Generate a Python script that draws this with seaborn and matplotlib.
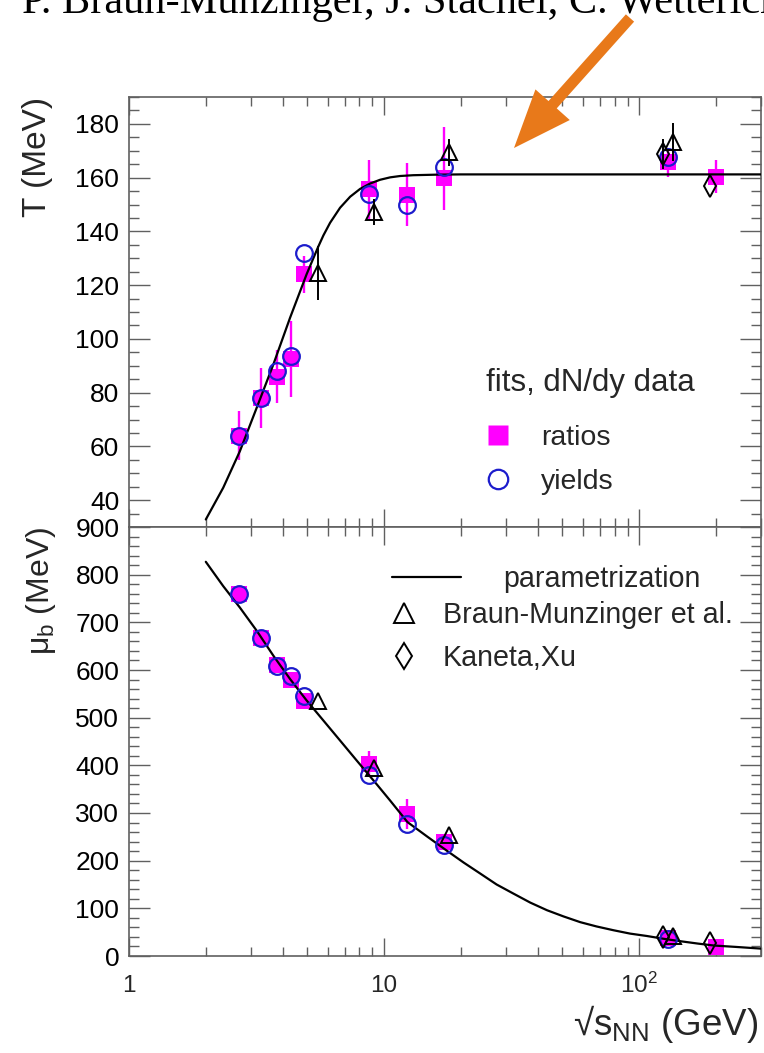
import numpy as np
import pandas as pd
import matplotlib
matplotlib.use("Agg")
import matplotlib.pyplot as plt
import seaborn as sns
from matplotlib.ticker import MultipleLocator, LogLocator, NullFormatter, FixedLocator
from matplotlib.lines import Line2D
from matplotlib.patches import FancyArrow
import matplotlib.transforms as mtransforms

# ---------------- data ----------------
# fits to dN/dy data: ratios (magenta squares) and yields (blue open circles)
E_fit = [2.7, 3.3, 3.8, 4.3, 4.85, 8.75, 12.3, 17.2, 130, 200]
T_ratios = [64, 78, 86, 92.5, 124, 155.6, 153.6, 160, 165.7, 160.4]
T_ratios_lo = [9, 11, 10, 14, 7, 11, 11.5, 12, 5.5, 6]
T_ratios_hi = [9, 11, 10, 14, 7, 11, 12, 18.7, 5.5, 6]
mu_ratios = [759, 667, 611, 579, 536, 403, 298, 239, 37, 19]
mu_ratios_err = [18, 10, 10, 10, 10, 28, 32, 12, 8, 8]

E_yields = [2.7, 3.3, 3.8, 4.3, 4.85, 8.75, 12.3, 17.2, 130]
T_yields = [64, 78, 88, 93.6, 131.8, 153.9, 149.8, 163.8, 167.8]
mu_yields = [759, 667, 609, 587, 545, 380, 276, 232, 36]

# Braun-Munzinger et al. (open triangles)
E_bm = [5.5, 9.1, 17.9, 136]
T_bm = [124.5, 147.2, 169.4, 173.2]
T_bm_err = [10, 5, 5, 7]
mu_bm = [536, 395, 253, 43]

# Kaneta, Xu (open diamonds)
E_kx = [124, 190]
T_kx = [168.8, 157]
T_kx_err = [5.5, 0]
mu_kx = [40, 27]

# parametrization curves
E_curveT = [2.00, 2.34, 2.72, 3.17, 3.68, 4.28, 4.97, 5.50, 5.78, 6.14, 6.72,
            7.36, 8.05, 8.81, 9.64, 10.56, 11.55, 13.0, 16.0, 20.0, 300.0]
T_curve = [32.8, 44.6, 58.2, 74.5, 90.5, 107.9, 124.1, 134.0, 138.5, 143.2, 148.8,
           152.9, 155.8, 157.8, 159.2, 160.1, 160.6, 160.9, 161.1, 161.2, 161.2]
E_curveMu = [2.00, 2.34, 2.72, 3.17, 3.68, 4.28, 4.97, 5.78, 6.72, 7.81, 9.36,
             10.56, 12.34, 14.8, 17.6, 20.5, 23.8, 27.6, 32.1, 37.4, 43.5, 50.5,
             58.7, 68.0, 79.3, 92.0, 107, 125, 145, 170, 196, 240, 300]
mu_curve = [827, 776, 731, 682, 630, 581, 536, 494, 452, 410, 360,
            326, 281, 250, 221, 196, 173, 150, 131, 112, 96, 83,
            71, 62, 54, 47, 42, 36, 31, 26, 22, 19, 15.5]

xtick_vals = [1, 10, 100]
xtick_labels = ["1", "10", r"$10^{2}$"]

# ---------------- style ----------------
sns.set_theme(style="ticks")
plt.rcParams["font.family"] = ["Liberation Sans", "DejaVu Sans"]
plt.rcParams["mathtext.fontset"] = "custom"
plt.rcParams["mathtext.rm"] = "Liberation Sans"
plt.rcParams["mathtext.it"] = "Liberation Sans:italic"
plt.rcParams["mathtext.bf"] = "Liberation Sans:bold"
plt.rcParams["mathtext.default"] = "regular"

MAG = "#ff00ff"
BLUE = "#1c1ccc"
GRAY = "#606060"

fig = plt.figure(figsize=(7.64, 10.53), dpi=100)
L, W = 129 / 764, 632 / 764
axT = fig.add_axes([L, 1 - 527 / 1053, W, 430 / 1053])
axM = fig.add_axes([L, 1 - 956 / 1053, W, 429 / 1053])

dfT = pd.DataFrame({"E": E_curveT, "T": T_curve})
dfM = pd.DataFrame({"E": E_curveMu, "mu": mu_curve})

# ---- upper panel: temperature ----
sns.lineplot(data=dfT, x="E", y="T", ax=axT, color="black", lw=1.6,
             sort=False, estimator=None, zorder=3)
axT.errorbar(E_fit, T_ratios, yerr=[T_ratios_lo, T_ratios_hi], fmt="none",
             ecolor=MAG, elinewidth=1.7, capsize=0, zorder=1.5)
sns.scatterplot(x=E_fit, y=T_ratios, ax=axT, marker="s", s=12 ** 2,
                color=MAG, linewidth=0, zorder=2)
axT.plot(E_yields, T_yields, ls="none", marker="o", ms=12, mfc="none",
         mec=BLUE, mew=1.6, zorder=4)
axT.errorbar(E_bm, T_bm, yerr=T_bm_err, fmt="^", ms=11.5, mfc="none", mec="black",
             mew=1.4, ecolor="black", elinewidth=1.4, capsize=0, zorder=5)
axT.errorbar(E_kx, T_kx, yerr=T_kx_err, fmt="d", ms=11, mfc="none", mec="black",
             mew=1.4, ecolor="black", elinewidth=1.4, capsize=0, zorder=5)

# ---- lower panel: baryon chemical potential ----
sns.lineplot(data=dfM, x="E", y="mu", ax=axM, color="black", lw=1.6,
             sort=False, estimator=None, zorder=3)
axM.errorbar(E_fit, mu_ratios, yerr=mu_ratios_err, fmt="none",
             ecolor=MAG, elinewidth=1.7, capsize=0, zorder=1.5)
sns.scatterplot(x=E_fit, y=mu_ratios, ax=axM, marker="s", s=12 ** 2,
                color=MAG, linewidth=0, zorder=2)
axM.plot(E_yields, mu_yields, ls="none", marker="o", ms=12, mfc="none",
         mec=BLUE, mew=1.6, zorder=4)
axM.plot(E_bm, mu_bm, ls="none", marker="^", ms=11.5, mfc="none", mec="black",
         mew=1.4, zorder=5)
axM.plot(E_kx, mu_kx, ls="none", marker="d", ms=11, mfc="none", mec="black",
         mew=1.4, zorder=5)

# ---- axes formatting ----
for ax in (axT, axM):
    ax.set_xscale("log")
    ax.set_xlim(1, 300)
    ax.xaxis.set_major_locator(FixedLocator(xtick_vals))
    ax.xaxis.set_minor_locator(LogLocator(base=10, subs=np.arange(2, 10)))
    ax.xaxis.set_minor_formatter(NullFormatter())
    ax.tick_params(which="both", direction="in", top=True, right=True,
                   bottom=True, left=True, color=GRAY, width=1.0,
                   labelbottom=False, labelsize=19, pad=7, labelcolor="black")
    ax.tick_params(axis="x", which="major", length=13)
    ax.tick_params(axis="x", which="minor", length=6.5)
    ax.tick_params(axis="y", which="major", length=15)
    ax.tick_params(axis="y", which="minor", length=7.5)
    for sp in ax.spines.values():
        sp.set_color(GRAY)
        sp.set_linewidth(1.2)
    ax.set_xlabel("")

axT.set_ylim(30, 190)
axT.yaxis.set_major_locator(MultipleLocator(20))
axT.yaxis.set_minor_locator(MultipleLocator(5))
axT.set_yticks(np.arange(40, 181, 20))
axM.set_ylim(0, 900)
axM.yaxis.set_major_locator(MultipleLocator(100))
axM.yaxis.set_minor_locator(MultipleLocator(20))

axT.set_ylabel("T (MeV)", fontsize=24, loc="top")
axT.yaxis.set_label_coords(-0.120, 1.0)
axM.set_ylabel("μ$_{b}$ (MeV)", fontsize=23, loc="top")
axM.yaxis.set_label_coords(-0.112, 1.0)

# x tick labels (baseline aligned, as in the original)
trans = mtransforms.blended_transform_factory(axM.transData, axM.transAxes)
for v, lab in zip(xtick_vals, xtick_labels):
    axM.text(v, -0.0850, lab, transform=trans, ha="center", va="baseline",
             fontsize=17.5)

axM.set_xlabel("√s$_{NN}$ (GeV)", fontsize=26.5, loc="right", va="baseline")
axM.xaxis.set_label_coords(0.9952, -0.184)

# ---- legends ----
axT.text(0.565, 0.3163, "fits, dN/dy data", transform=axT.transAxes,
         fontsize=22.5, ha="left", va="baseline")
hR = Line2D([], [], ls="none", marker="s", ms=14, color=MAG, mec="none")
hY = Line2D([], [], ls="none", marker="o", ms=14, mfc="none", mec=BLUE, mew=1.6)
legT = axT.legend([hR, hY], ["ratios", "yields"],
                  loc="upper left", bbox_to_anchor=(0.565, 0.2374), frameon=False,
                  borderpad=0, borderaxespad=0, handlelength=0.82,
                  handletextpad=1.1, labelspacing=0.63, fontsize=20.5)

hL = Line2D([], [], color="black", lw=1.6)
leg1 = axM.legend([hL], ["parametrization"], loc="upper left",
                  bbox_to_anchor=(0.416, 0.911), frameon=False, borderpad=0,
                  borderaxespad=0, handlelength=2.4, handletextpad=1.5,
                  fontsize=20.6)
axM.add_artist(leg1)
hB = Line2D([], [], ls="none", marker="^", ms=15, mfc="none", mec="black", mew=1.4)
hK = Line2D([], [], ls="none", marker="d", ms=13, mfc="none", mec="black", mew=1.4)
leg2 = axM.legend([hB, hK], ["Braun-Munzinger et al.", "Kaneta,Xu"],
                  loc="upper left", bbox_to_anchor=(0.413, 0.827), frameon=False,
                  borderpad=0, borderaxespad=0, handlelength=0.96,
                  handletextpad=0.88, labelspacing=0.5, fontsize=20.6)

# ---- header text and arrow ----
fig.text(22 / 764, 1 - 12.5 / 1053, "P. Braun-Munzinger, J. Stachel, C. Wetterich",
         fontsize=30.5, family=["Liberation Serif", "DejaVu Serif"], va="baseline",
         ha="left", color="black")
arrow = FancyArrow(6.30, 10.35, -1.16, -1.30, width=0.11, head_width=0.46,
                   head_length=0.58, length_includes_head=True, color="#E8791A",
                   lw=0, transform=fig.dpi_scale_trans)
fig.add_artist(arrow)

fig.savefig("out.png", dpi=100)
